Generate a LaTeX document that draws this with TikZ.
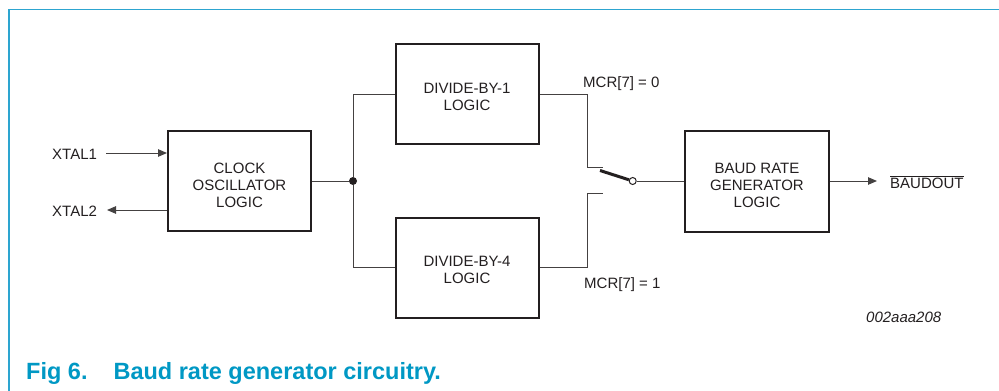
\documentclass[tikz,border=0pt]{standalone}
\usepackage{fontspec}
\setmainfont{Liberation Sans}
\usetikzlibrary{arrows.meta}
\definecolor{frameblue}{RGB}{45,165,208}
\definecolor{capblue}{RGB}{0,152,196}
\definecolor{ink}{RGB}{35,31,32}
\begin{document}
\begin{tikzpicture}[x=1pt,y=-1pt,
  blk/.style={draw=ink,line width=2pt,inner sep=0pt,minimum width=143pt,minimum height=100pt},
  lbl/.style={font=\fontsize{15}{17}\selectfont,text=ink,inner sep=0pt,align=center},
  wire/.style={draw=ink!85,line width=1pt},
  arr/.style={wire,-{Triangle[length=9pt,width=7.5pt]}}]
\useasboundingbox (0,0) rectangle (999,391);
\draw[frameblue,line width=1.8pt] (8.6,391) -- (8.6,9.4) -- (999,9.4);
% blocks
\node[blk] (clock) at (239.5,181) {};
\node[lbl,yshift=-4pt] (clockt) at (clock) {CLOCK\\OSCILLATOR\\LOGIC};
\node[blk] (div1) at (467,94) {};
\node[lbl,yshift=-3pt] (div1t) at (div1) {DIVIDE-BY-1\\LOGIC};
\node[blk] (div4) at (467,267.5) {};
\node[lbl,yshift=-2pt] (div4t) at (div4) {DIVIDE-BY-4\\LOGIC};
\node[blk,minimum width=144pt,minimum height=101pt] (baud) at (757,181) {};
\node[lbl,yshift=-4pt] (baudt) at (baud) {BAUD RATE\\GENERATOR\\LOGIC};
% inputs
\node[lbl,anchor=base west] (x1) at (52,159) {XTAL1};
\node[lbl,anchor=base west] (x2) at (52,216) {XTAL2};
\coordinate (x1s) at (106,153);
\coordinate (x2e) at (107,210);
\draw[arr] (x1s) -- (clock.west |- x1s);
\draw[arr] (clock.west |- x2e) -- (x2e);
% junction
\node[circle,fill=ink,inner sep=0pt,minimum size=8pt] (j) at (353,181) {};
\draw[wire] (clock.east) -- (j);
\draw[wire] (j) |- (div1.west);
\draw[wire] (j) |- (div4.west);
% switch
\coordinate (c0) at (603,167.3);
\coordinate (c1) at (603,193.3);
\draw[wire] (div1.east) -- ++(47.5,0) |- (c0);
\draw[wire] (div4.east) -- ++(47.5,0) |- (c1);
\node[circle,draw=ink,fill=white,line width=1pt,inner sep=0pt,minimum size=7pt] (sw) at (632.7,181) {};
\coordinate (blade) at (600,170.5);
\draw[ink,line width=3pt] (blade) -- (sw);
\draw[wire] (sw) -- (baud.west);
\node[lbl,anchor=base west] (m0) at (583,87.3) {MCR[7] = 0};
\node[lbl,anchor=base west] (m1) at (584,288.3) {MCR[7] = 1};
% output
\node[lbl,anchor=base west] (bo) at (890,188.5) {BAUDOUT};
\draw[ink,line width=1pt] ([yshift=1.8pt]bo.north west) -- ([yshift=1.8pt]bo.north east);
\coordinate (bin) at (877,181);
\draw[arr] (baud.east) -- (bin);
% code and caption
\node[lbl,anchor=base west,font=\fontsize{15}{17}\selectfont\itshape] (code) at (866,322) {002aaa208};
\node[anchor=base west,inner sep=0pt,text=capblue,font=\fontsize{23.5}{26}\selectfont\bfseries] (cap) at (26,379) {Fig 6.\hspace{26pt}Baud rate generator circuitry.};
\end{tikzpicture}
\end{document}
